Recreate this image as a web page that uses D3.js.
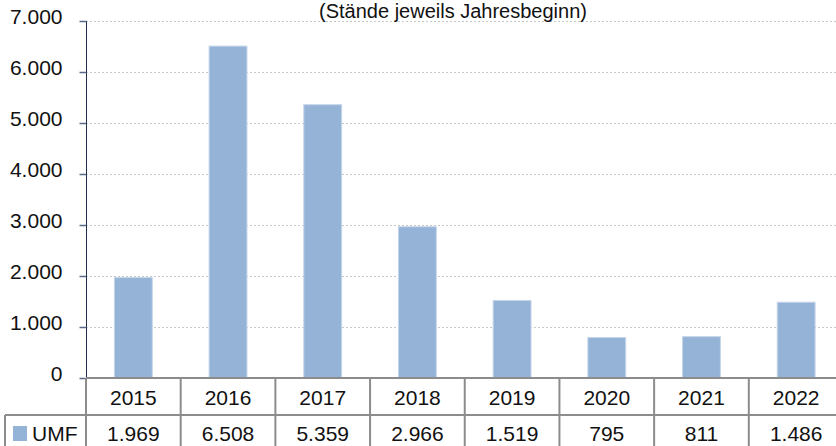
<!DOCTYPE html>
<html>
<head>
<meta charset="utf-8">
<script src="https://cdn.jsdelivr.net/npm/d3@7"></script>
<style>
  body { margin: 0; background: #fff; }
  svg { display: block; font-family: "Liberation Sans", Arial, sans-serif; }
  .grid-line { stroke: #c8c8c8; stroke-width: 1; stroke-dasharray: 2,2; }
  .table-line { stroke: #8c8c8c; stroke-width: 2; }
  .cell-text { font-size: 21px; fill: #111; text-anchor: middle; }
</style>
</head>
<body>
<div class="app"></div>
<script>
'use strict'

var width = 836;
var height = 446;

var years = ["2015", "2016", "2017", "2018", "2019", "2020", "2021", "2022"];
var umf = [1969, 6508, 5359, 2966, 1519, 795, 811, 1486];
var umfLabels = ["1.969", "6.508", "5.359", "2.966", "1.519", "795", "811", "1.486"];
var yTicks = [0, 1000, 2000, 3000, 4000, 5000, 6000, 7000];
var yTickLabels = ["0", "1.000", "2.000", "3.000", "4.000", "5.000", "6.000", "7.000"];
var seriesName = "UMF";
var subtitle = "(Stände jeweils Jahresbeginn)";

var plotLeft = 86;        // y-axis position
var plotRight = 843.5;    // plot runs a bit past the visible edge
var plotTop = 21;
var plotBottom = 378;
var rowH = 37;

var svg = d3.select(".app")
  .append("svg")
  .attr("width", width)
  .attr("height", height);

var scaleX = d3.scaleBand()
  .domain(years)
  .range([plotLeft, plotRight])
  .paddingInner(0)
  .paddingOuter(0);

var scaleY = d3.scaleLinear()
  .domain([0, 7000])
  .range([plotBottom, plotTop]);

// gridlines
svg.append("g")
  .selectAll("line")
  .data(yTicks.slice(1))
  .join("line")
  .attr("class", "grid-line")
  .attr("x1", plotLeft)
  .attr("x2", width)
  .attr("y1", function(d) { return scaleY(d) + 0.5; })
  .attr("y2", function(d) { return scaleY(d) + 0.5; });

// title
svg.append("text")
  .attr("x", 453)
  .attr("y", 18)
  .attr("text-anchor", "middle")
  .style("font-size", "20px")
  .style("fill", "#111")
  .text(subtitle);

// bars
var barW = scaleX.bandwidth() * 0.4;
svg.append("g")
  .selectAll("rect")
  .data(umf)
  .join("rect")
  .attr("x", function(d, i) { return scaleX(years[i]) + (scaleX.bandwidth() - barW) / 2; })
  .attr("y", function(d) { return scaleY(d); })
  .attr("width", barW)
  .attr("height", function(d) { return plotBottom - scaleY(d); })
  .attr("fill", "#95b3d7")
  .attr("stroke", "#c6d6ea")
  .attr("stroke-width", 1);

// y axis
var yAxis = d3.axisLeft(scaleY)
  .tickValues(yTicks)
  .tickFormat(function(d, i) { return yTickLabels[i]; })
  .tickSize(7)
  .tickPadding(17);

var gy = svg.append("g")
  .attr("transform", "translate(" + (plotLeft + 0.5) + ",0)")
  .call(yAxis);
gy.select(".domain").attr("stroke", "#1f2d4a").attr("d", "M0," + plotTop + "V" + plotBottom);
gy.selectAll(".tick line").attr("stroke", "#5a6a85").attr("stroke-width", 1.5);
gy.selectAll(".tick text")
  .style("font-size", "21px")
  .style("font-family", "'Liberation Sans', Arial, sans-serif")
  .attr("fill", "#111")
  .attr("dy", "0.1em");

// data table
var tbl = svg.append("g");
var row1 = plotBottom;
var row2 = plotBottom + rowH;
var row3 = plotBottom + 2 * rowH;

// horizontal lines
tbl.append("line").attr("class", "table-line")
  .attr("x1", plotLeft).attr("x2", width).attr("y1", row1).attr("y2", row1);
tbl.append("line").attr("class", "table-line")
  .attr("x1", 5).attr("x2", width).attr("y1", row2).attr("y2", row2);
tbl.append("line").attr("class", "table-line")
  .attr("x1", 5).attr("x2", width).attr("y1", row3).attr("y2", row3);

// vertical lines
var cols = years.map(function(y) { return scaleX(y); }).concat([plotRight]);
tbl.selectAll("line.col")
  .data(cols)
  .join("line")
  .attr("class", "table-line col")
  .attr("x1", function(d) { return d; })
  .attr("x2", function(d) { return d; })
  .attr("y1", row1)
  .attr("y2", row3);
tbl.append("line").attr("class", "table-line")
  .attr("x1", 5).attr("x2", 5).attr("y1", row2).attr("y2", row3);

// header years
tbl.selectAll("text.year")
  .data(years)
  .join("text")
  .attr("class", "cell-text year")
  .attr("x", function(d) { return scaleX(d) + scaleX.bandwidth() / 2; })
  .attr("y", row1 + 27)
  .text(function(d) { return d; });

// values
tbl.selectAll("text.val")
  .data(umfLabels)
  .join("text")
  .attr("class", "cell-text val")
  .attr("x", function(d, i) { return scaleX(years[i]) + scaleX.bandwidth() / 2; })
  .attr("y", row2 + 26)
  .text(function(d) { return d; });

// legend key
tbl.append("rect")
  .attr("x", 13)
  .attr("y", row2 + 11)
  .attr("width", 14)
  .attr("height", 15)
  .attr("fill", "#95b3d7");
tbl.append("text")
  .attr("x", 32)
  .attr("y", row2 + 26)
  .style("font-size", "21px")
  .style("fill", "#111")
  .text(seriesName);
</script>
</body>
</html>
